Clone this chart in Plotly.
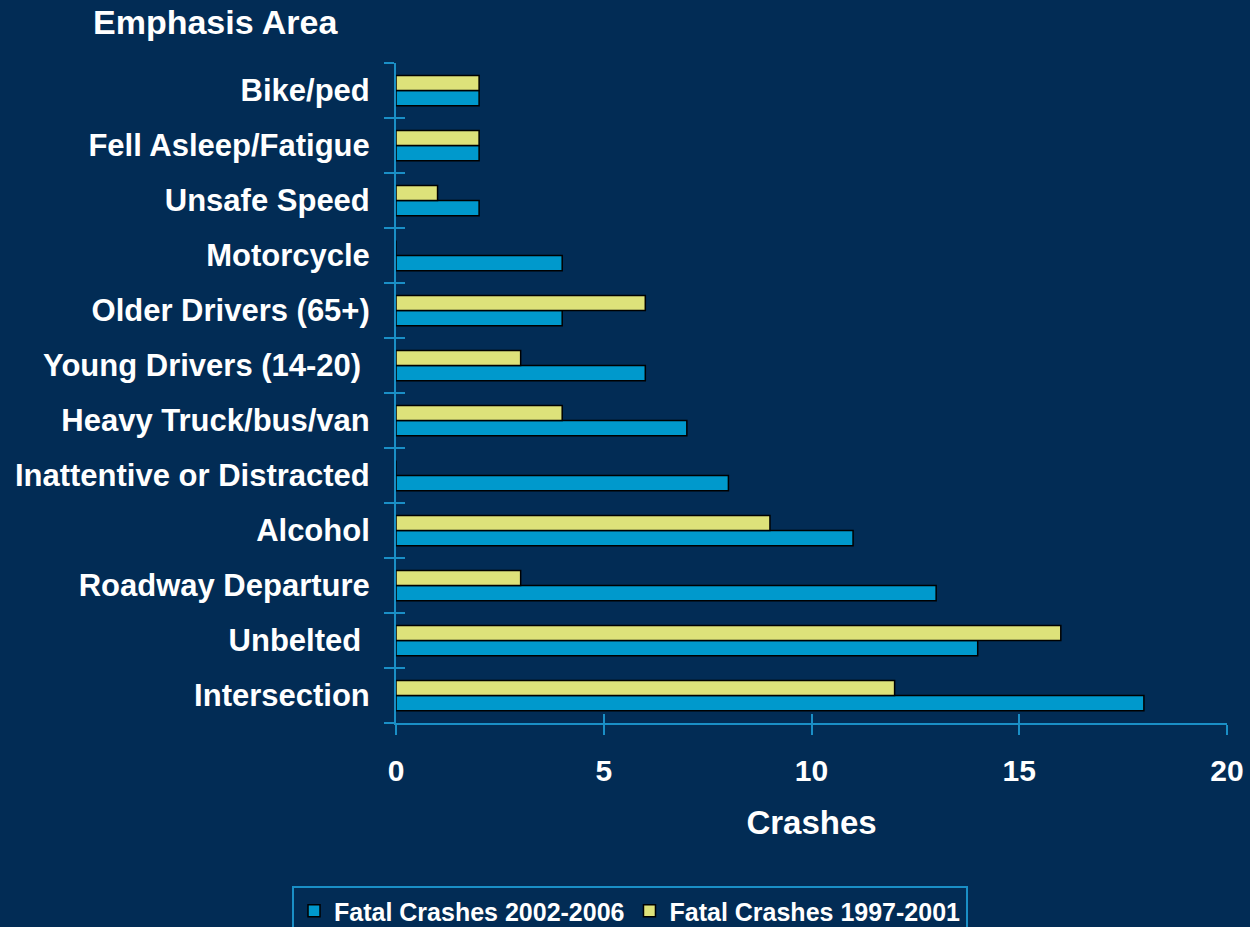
import plotly.graph_objects as go

# categories listed bottom to top (as drawn on the y axis)
categories = [
    "Intersection", "Unbelted\u00a0", "Roadway Departure", "Alcohol",
    "Inattentive or Distracted", "Heavy Truck/bus/van", "Young Drivers (14-20)\u00a0",
    "Older Drivers (65+)", "Motorcycle", "Unsafe Speed", "Fell Asleep/Fatigue", "Bike/ped",
]
crashes_2002_2006 = [18, 14, 13, 11, 8, 7, 6, 4, 4, 2, 2, 2]
crashes_1997_2001 = [12, 16, 3, 9, 0, 4, 3, 6, 0, 1, 2, 2]
x_ticks = [0, 5, 10, 15, 20]

BG = "#022C55"
AXIS = "#1A8FC6"
BLUE = "#0099CC"
YELLOW = "#DDE27A"
FONT = "Liberation Sans, Arial, sans-serif"

fig = go.Figure()
fig.add_trace(go.Bar(y=categories, x=crashes_2002_2006, orientation="h",
                     name="<b>Fatal Crashes 2002-2006</b>",
                     marker=dict(color=BLUE, line=dict(color="black", width=1.5))))
fig.add_trace(go.Bar(y=categories, x=crashes_1997_2001, orientation="h",
                     name="<b>Fatal Crashes 1997-2001</b>",
                     marker=dict(color=YELLOW, line=dict(color="black", width=1.5))))
# empty trace so the overlay axes (inner half of the crossing ticks) get drawn
fig.add_trace(go.Scatter(x=[], y=[], xaxis="x2", yaxis="y2", showlegend=False))

fig.update_layout(
    width=1250, height=927,
    paper_bgcolor=BG, plot_bgcolor=BG,
    margin=dict(l=396, r=23, t=63, b=204, autoexpand=False),
    barmode="group", bargap=0.45, bargroupgap=0,
    font=dict(family=FONT, color="white"),
    xaxis=dict(range=[0, 20], tickvals=x_ticks, ticktext=["<b>%d</b>" % v for v in x_ticks],
               showgrid=False, zeroline=False, automargin=False,
               showline=True, linecolor=AXIS, linewidth=2,
               ticks="outside", ticklen=10, tickwidth=2, tickcolor=AXIS,
               ticklabelstandoff=10,
               tickfont=dict(size=30, family=FONT, color="white"),
               title=dict(text="<b>Crashes</b>", font=dict(size=33, family=FONT, color="white"),
                          standoff=25)),
    yaxis=dict(type="category", categoryorder="array", categoryarray=categories,
               tickvals=categories, ticktext=["<b>%s</b>" % c for c in categories],
               range=[-0.5, len(categories) - 0.5], showgrid=False, zeroline=False,
               automargin=False,
               showline=True, linecolor=AXIS, linewidth=2,
               ticks="outside", ticklen=10, tickwidth=2, tickcolor=AXIS,
               tickson="boundaries", ticklabelstandoff=18,
               tickfont=dict(size=31, family=FONT, color="white")),
    xaxis2=dict(overlaying="x", anchor="y2", range=[0, 20], dtick=5, showgrid=False,
                zeroline=False, showticklabels=False, ticks="inside", ticklen=9,
                tickwidth=2, tickcolor=AXIS),
    yaxis2=dict(overlaying="y", anchor="x2", range=[-0.5, len(categories) - 0.5],
                tick0=-0.5, dtick=1, showgrid=False, zeroline=False,
                showticklabels=False, ticks="inside", ticklen=9, tickwidth=2,
                tickcolor=AXIS),
    legend=dict(orientation="h", x=0.2816, xanchor="center", y=-0.247, yanchor="top",
                bgcolor="rgba(0,0,0,0)", bordercolor=AXIS, borderwidth=2,
                font=dict(size=25, family=FONT, color="white"), traceorder="normal"),
    annotations=[dict(text="<b>Emphasis Area</b>", xref="paper", yref="paper",
                      x=(215 - 396) / 831, y=(723 - 22) / 660, xanchor="center",
                      yanchor="middle", showarrow=False,
                      font=dict(size=34, family=FONT, color="white"))],
)

fig.write_html("out.html", config={"displayModeBar": False},
               post_script="document.body.style.margin='0';"
                           "document.body.style.background='%s';" % BG)
